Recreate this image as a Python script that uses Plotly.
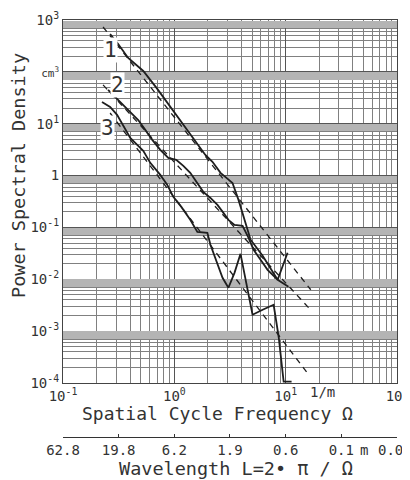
import numpy as np
import plotly.graph_objects as go

# ---- data (Omega in 1/m, PSD in cm^3) ----
omega_1 = [0.265, 0.313, 0.385, 0.464, 0.526, 0.703, 0.920, 1.205, 1.546, 1.90, 2.20,
           2.60, 2.94, 3.33, 3.77, 4.27, 4.84, 6.21, 8.47, 10.4]
psd_1 = [537, 345, 185, 130, 104, 46.9, 21.1, 9.5, 4.46, 2.5, 1.84,
         1.13, 0.90, 0.72, 0.34, 0.14, 0.058, 0.0284, 0.0098, 0.0324]

omega_2 = [0.254, 0.313, 0.385, 0.474, 0.548, 0.634, 0.748, 0.883, 1.04, 1.205, 1.39,
           1.61, 1.82, 2.11, 2.44, 2.76, 3.06, 3.47, 4.10, 4.64, 5.15, 5.95, 6.88, 8.47, 10.6]
psd_2 = [44.8, 28.8, 18.5, 11.8, 7.6, 4.88, 3.13, 2.19, 2.01, 1.54, 1.13,
         0.69, 0.485, 0.37, 0.272, 0.191, 0.14, 0.112, 0.107, 0.063, 0.037, 0.0238, 0.0152, 0.0098, 0.0072]

omega_3 = [0.224, 0.265, 0.306, 0.347, 0.402, 0.464, 0.526, 0.608, 0.748, 0.865, 0.979,
           1.156, 1.39, 1.61, 1.98, 2.11, 2.44, 2.71, 3.06, 3.47, 3.93, 4.36, 5.04, 6.21,
           7.80, 8.65, 9.59, 11.3]
psd_3 = [26.3, 21.1, 14.8, 9.5, 5.33, 3.91, 2.99, 1.76, 1.03, 0.662, 0.389,
         0.249, 0.14, 0.0822, 0.0787, 0.0462, 0.019, 0.0107, 0.00686, 0.0133, 0.031, 0.0098,
         0.00207, 0.00258, 0.00323, 0.00078, 0.000106, 0.000106]

fit_omega_1 = [0.229, 16.8]
fit_psd_1 = [733, 0.00628]
fit_omega_2 = [0.229, 16.1]
fit_psd_2 = [56, 0.00282]
fit_omega_3 = [0.265, 16.1]
fit_psd_3 = [16.1, 0.000144]

curve_labels = ["1", "2", "3"]
label_omega = [0.265, 0.306, 0.249]
label_psd = [264, 56, 8.3]

x_tick_vals = [0.1, 1, 10, 100]
x_tick_text = ["10<sup>-1</sup>", "10<sup>0</sup>", "10<sup>1</sup>", "10<sup>2</sup>"]
y_tick_vals = [1e3, 1e2, 1e1, 1, 1e-1, 1e-2, 1e-3, 1e-4]
y_tick_text = ["10<sup>3</sup>", "<span style='font-size:11px'>cm<sup>3</sup></span>",
               "10<sup>1</sup>", "1", "10<sup>-1</sup>", "10<sup>-2</sup>",
               "10<sup>-3</sup>", "10<sup>-4</sup>"]

wl_tick_omega = [0.1, 0.316, 1, 3.16, 10, 31.6, 100]
wl_tick_text = ["62.8", "19.8", "6.2", "1.9", "0.6", "0.1", ""]
wl_last_text = "0.0"

FONT = "DejaVu Sans Mono"
INK = "#1e1e1e"
TXT = "#333333"

# grid positions
x_minor = [m * 10.0 ** d for d in (-1, 0, 1) for m in range(2, 10)]
y_minor = [m * 10.0 ** d for d in range(-4, 3) for m in range(2, 10)]
y_band = [m * 10.0 ** d for d in range(-4, 3) for m in np.arange(7.25, 9.99, 0.25)]

fig = go.Figure()

# helper trace carrying the band grid axis
fig.add_trace(go.Scatter(x=[0.1, 100], y=[1, 1], yaxis="y2", mode="lines",
                         line=dict(width=0, color="rgba(0,0,0,0)"),
                         showlegend=False, hoverinfo="skip"))

for fo, fp in [(fit_omega_1, fit_psd_1), (fit_omega_2, fit_psd_2), (fit_omega_3, fit_psd_3)]:
    fig.add_trace(go.Scatter(x=fo, y=fp, mode="lines",
                             line=dict(color=INK, width=1.3, dash="6px,5px"),
                             showlegend=False, hoverinfo="skip"))

for om, ps in [(omega_1, psd_1), (omega_2, psd_2), (omega_3, psd_3)]:
    fig.add_trace(go.Scatter(x=om, y=ps, mode="lines",
                             line=dict(color=INK, width=1.8),
                             showlegend=False, hoverinfo="skip"))

# invisible trace to carry the wavelength axis
fig.add_trace(go.Scatter(x=[0.1, 100], y=[1, 1], xaxis="x2", mode="lines",
                         line=dict(width=0, color="rgba(0,0,0,0)"),
                         showlegend=False, hoverinfo="skip"))

for t, om, ps in zip(curve_labels, label_omega, label_psd):
    fig.add_annotation(x=np.log10(om), y=np.log10(ps), xref="x", yref="y", text=t,
                       showarrow=False, font=dict(family=FONT, size=21, color=TXT),
                       bgcolor="white", borderpad=0, xanchor="center", yanchor="middle")

# page body has an 8px margin: figure origin sits at (8, 8) of the window
OFF = 8
H_TOP = 20
H_BOT = 437
PH = H_BOT - H_TOP
FIG_W = 424
FIG_H = 480 - OFF


def py(ypx):
    return (H_BOT - ypx) / PH


def px(xpx):
    return (xpx - 63) / 334.0


def note(x, y, text, size, xref="paper", angle=0, xanchor="center"):
    fig.add_annotation(x=x, y=y, xref=xref, yref="paper", text=text, textangle=angle,
                       showarrow=False, xanchor=xanchor, yanchor="middle",
                       font=dict(family=FONT, size=size, color=TXT))


note(px(18), py(176), "Power Spectral Density", 18.5, angle=-90)
note(px(217), py(413), "Spatial Cycle Frequency Ω", 18)
note(np.log10(21.5), py(392), "1/m", 14, xref="x")
note(px(236), py(468), "Wavelength L=2• π / Ω", 18.5)
note(px(364), py(450), "m", 14)
note(px(405), py(450), wl_last_text, 14, xanchor="right")

ydom = [(H_BOT - 383) / PH, 1]

fig.update_layout(
    width=FIG_W, height=FIG_H,
    margin=dict(l=63 - OFF, r=FIG_W - (397 - OFF), t=H_TOP - OFF, b=FIG_H - (H_BOT - OFF),
                autoexpand=False),
    paper_bgcolor="white", plot_bgcolor="white",
    font=dict(family=FONT, size=14, color=TXT),
    xaxis=dict(type="log", range=[-1, 2], tickvals=x_tick_vals, ticktext=x_tick_text,
               showgrid=True, gridcolor="#555555", gridwidth=1,
               minor=dict(tickvals=x_minor, showgrid=True, gridcolor="#808080", gridwidth=1),
               showline=True, linecolor="#444444", linewidth=1.2, mirror=True,
               ticks="", zeroline=False, anchor="y", automargin=False,
               ticklabeloverflow="allow",
               tickfont=dict(family=FONT, size=14, color=TXT)),
    yaxis=dict(type="log", range=[-4, 3], tickvals=y_tick_vals, ticktext=y_tick_text,
               domain=ydom,
               showgrid=True, gridcolor="#555555", gridwidth=1,
               minor=dict(tickvals=y_minor, showgrid=True, gridcolor="#808080", gridwidth=1),
               showline=True, linecolor="#444444", linewidth=1.2, mirror=True,
               ticks="", zeroline=False, automargin=False,
               tickfont=dict(family=FONT, size=14, color=TXT)),
    yaxis2=dict(type="log", range=[-4, 3], overlaying="y", domain=ydom,
                tickvals=y_band, showticklabels=False, ticks="",
                showgrid=True, gridcolor="#b4b4b4", gridwidth=0.6,
                showline=False, zeroline=False, automargin=False),
    xaxis2=dict(type="log", range=[-1, 2], overlaying="x", anchor="free", position=0,
                side="bottom", tickvals=wl_tick_omega, ticktext=wl_tick_text,
                showgrid=False, showline=True, linecolor="#333333", linewidth=1.2,
                ticks="inside", ticklen=3, tickcolor="#333333", automargin=False,
                ticklabeloverflow="allow",
                tickfont=dict(family=FONT, size=14, color=TXT)),
)

fig.write_html("out.html")
